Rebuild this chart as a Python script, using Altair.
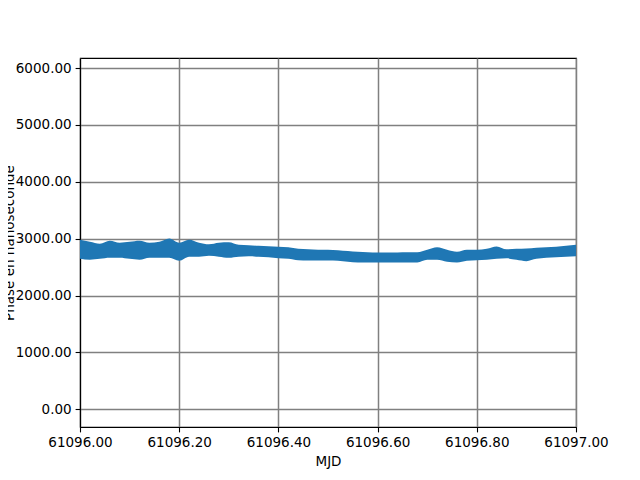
import altair as alt
import pandas as pd

# MJD offsets from 61096 (every 0.02 day)
offsets = [0.00, 0.02, 0.04, 0.06, 0.08, 0.10, 0.12, 0.14, 0.16, 0.18,
           0.20, 0.22, 0.24, 0.26, 0.28, 0.30, 0.32, 0.34, 0.36, 0.38,
           0.40, 0.42, 0.44, 0.46, 0.48, 0.50, 0.52, 0.54, 0.56, 0.58,
           0.60, 0.62, 0.64, 0.66, 0.68, 0.70, 0.72, 0.74, 0.76, 0.78,
           0.80, 0.82, 0.84, 0.86, 0.88, 0.90, 0.92, 0.94, 0.96, 0.98, 1.00]
mjd_start = 61096

# upper and lower edge of the band of phase points (ns)
upper = [2979, 2944, 2909, 2962, 2927, 2944, 2962, 2927, 2944, 3004,
         2929, 2979, 2927, 2900, 2927, 2935, 2891, 2886, 2874, 2865,
         2856, 2847, 2821, 2812, 2803, 2803, 2795, 2781, 2768, 2763,
         2756, 2756, 2756, 2759, 2759, 2803, 2847, 2803, 2768, 2803,
         2803, 2821, 2862, 2812, 2821, 2826, 2839, 2847, 2856, 2874, 2891]
lower = [2645, 2628, 2645, 2663, 2663, 2645, 2628, 2663, 2663, 2663,
         2610, 2681, 2681, 2698, 2681, 2663, 2681, 2689, 2681, 2672,
         2654, 2645, 2619, 2616, 2616, 2616, 2610, 2593, 2580, 2580,
         2580, 2580, 2580, 2580, 2580, 2628, 2628, 2593, 2580, 2610,
         2619, 2628, 2645, 2654, 2628, 2605, 2645, 2663, 2672, 2681, 2689]

x_ticks = [61096.0, 61096.2, 61096.4, 61096.6, 61096.8, 61097.0]
y_ticks = [0, 1000, 2000, 3000, 4000, 5000, 6000]

df = pd.DataFrame({
    "MJD": [mjd_start + o for o in offsets],
    "upper": upper,
    "lower": lower,
})

blue = "#1f77b4"

xenc = alt.X("MJD:Q",
             scale=alt.Scale(domain=[61096, 61097], nice=False, zero=False),
             axis=alt.Axis(values=x_ticks, format=".2f", title="MJD",
                           labelFlush=False, labelOverlap=False,
                           titlePadding=5))
yaxis = alt.Axis(values=y_ticks, format=".2f", title="Phase en nanoseconde",
                 titleAngle=270, titleX=-67, titleY=184.5,
                 titleBaseline="alphabetic", titleAlign="center")
yscale = alt.Scale(domain=[-311, 6176], nice=False, zero=False)

band = alt.Chart(df).mark_area(color=blue, opacity=1, clip=True,
                               interpolate="monotone").encode(
    x=xenc,
    y=alt.Y("lower:Q", scale=yscale, axis=yaxis),
    y2="upper:Q",
)

chart = band.properties(
    width=496, height=369,
    autosize=alt.AutoSizeParams(type="none"),
    padding={"left": 72, "top": 50, "right": 56, "bottom": 45},
    background="white",
).configure_view(
    stroke="black", strokeWidth=1.1
).configure_axis(
    labelFont="DejaVu Sans", labelFontSize=13.5, labelColor="black",
    titleFont="DejaVu Sans", titleFontSize=13.5, titleColor="black",
    titleFontWeight="normal",
    domainColor="black", domainWidth=1.1,
    tickColor="black", tickWidth=1.1, tickSize=4.9,
    labelPadding=4,
    grid=True, gridColor="#808080", gridWidth=1.5, gridOpacity=1,
)

chart.save("out.html", embed_options={"renderer": "svg", "actions": False})
